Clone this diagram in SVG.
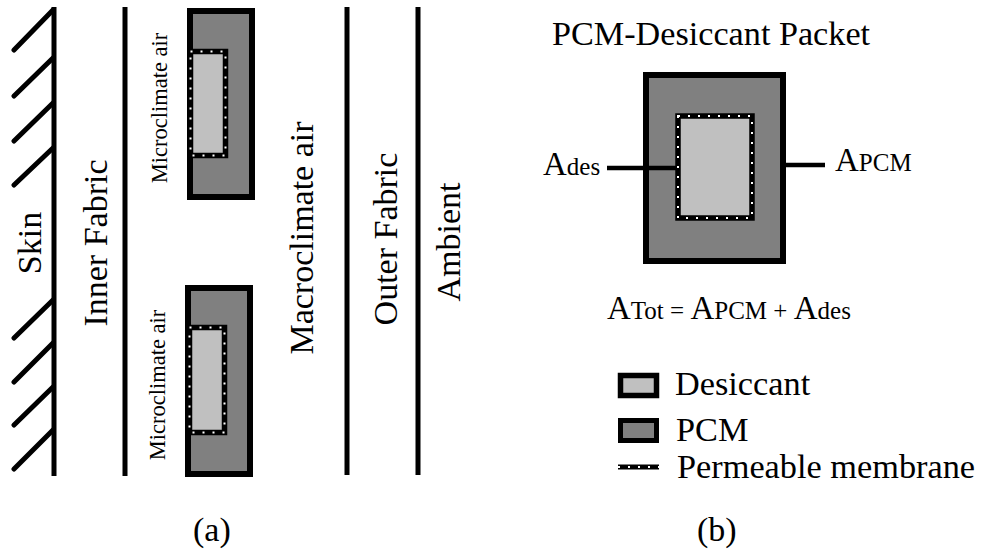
<svg xmlns="http://www.w3.org/2000/svg" width="982" height="556" viewBox="0 0 982 556">
<style>
text{font-family:"Liberation Serif","Times New Roman",serif;fill:#000}
.lbl{font-size:34px;text-anchor:middle}
.mc{font-size:22.5px;text-anchor:middle}
.wall{stroke:#000;stroke-width:5;fill:none}
.hatch{stroke:#000;stroke-width:5;stroke-linecap:round;fill:none}
.pcm{fill:#808080;stroke:#000;stroke-width:6}
.des{fill:#c0c0c0;stroke:#000;stroke-width:5.5}
.dots{fill:none;stroke:#fff;stroke-width:2;stroke-dasharray:2 8}
.conn{stroke:#000;stroke-width:4.5;fill:none}
.leg{font-size:34.3px}
.big{font-size:33px}
.sub{font-size:25px}
</style>
<rect width="982" height="556" fill="#fff"/>

<!-- (a) -->
<g id="skin">
<line class="wall" x1="54" y1="7" x2="54" y2="476"/>
<path class="hatch" d="M14,50 L53,10 M14,96 L53,58 M14,141 L53,103 M14,185 L53,148 M14,338 L53,300 M14,382 L53,343 M14,425 L53,387 M14,469 L53,430"/>
<text class="lbl" transform="translate(41,243) rotate(-90)">Skin</text>
</g>
<g id="inner-fabric">
<line class="wall" x1="125" y1="7" x2="125" y2="476"/>
<text class="lbl" transform="translate(107,243) rotate(-90)">Inner Fabric</text>
</g>
<g id="packet-top">
<rect class="pcm" x="190" y="11" width="62" height="186"/>
<rect class="des" x="190.5" y="51.5" width="35" height="104"/>
<rect class="dots" x="190.5" y="51.5" width="35" height="104"/>
<text class="mc" transform="translate(167,108) rotate(-90)">Microclimate air</text>
</g>
<g id="packet-bottom">
<rect class="pcm" x="188" y="288" width="62" height="186"/>
<rect class="des" x="189.5" y="327.5" width="35" height="105"/>
<rect class="dots" x="189.5" y="327.5" width="35" height="105"/>
<text class="mc" transform="translate(165,385) rotate(-90)">Microclimate air</text>
</g>
<g id="macroclimate">
<line class="wall" x1="347" y1="7" x2="347" y2="475"/>
<text class="lbl" transform="translate(313,238) rotate(-90)">Macroclimate air</text>
</g>
<g id="outer-fabric">
<line class="wall" x1="418" y1="7" x2="418" y2="475"/>
<text class="lbl" transform="translate(397,239) rotate(-90)">Outer Fabric</text>
</g>
<g id="ambient">
<text class="lbl" transform="translate(460,242) rotate(-90)">Ambient</text>
</g>
<g id="caption-a"><text x="193" y="541" font-size="34">(a)</text></g>

<!-- (b) -->
<g id="title-b"><text x="552" y="45" font-size="34.2">PCM-Desiccant Packet</text></g>
<g id="connectors">
<line class="conn" x1="607" y1="168" x2="677" y2="168"/>
<line class="conn" x1="785" y1="165" x2="825" y2="165"/>
</g>
<g id="packet-b">
<rect class="pcm" x="646" y="75" width="137" height="186"/>
<rect class="des" x="678" y="116" width="74" height="102"/>
<rect class="dots" x="678" y="116" width="74" height="102"/>
<line class="conn" x1="643" y1="168" x2="677" y2="168"/>
</g>
<g id="label-ades"><text x="543" y="175"><tspan class="big">A</tspan><tspan class="sub">des</tspan></text></g>
<g id="label-apcm"><text x="835" y="171"><tspan class="big">A</tspan><tspan class="sub">PCM</tspan></text></g>
<g id="formula"><text x="607" y="319"><tspan class="big">A</tspan><tspan class="sub">Tot = </tspan><tspan class="big">A</tspan><tspan class="sub">PCM + </tspan><tspan class="big">A</tspan><tspan class="sub">des</tspan></text></g>

<g id="legend">
<rect class="des" x="620.5" y="375.5" width="36" height="20"/>
<text class="leg" x="675" y="395">Desiccant</text>
<rect class="pcm" x="620.5" y="420.5" width="36" height="20" style="stroke-width:5"/>
<text class="leg" x="676" y="441">PCM</text>
<line x1="618" y1="467" x2="659" y2="467" stroke="#000" stroke-width="5"/>
<line x1="618" y1="467" x2="659" y2="467" class="dots"/>
<text class="leg" x="677" y="478">Permeable membrane</text>
</g>
<g id="caption-b"><text x="697" y="541" font-size="34">(b)</text></g>
</svg>
